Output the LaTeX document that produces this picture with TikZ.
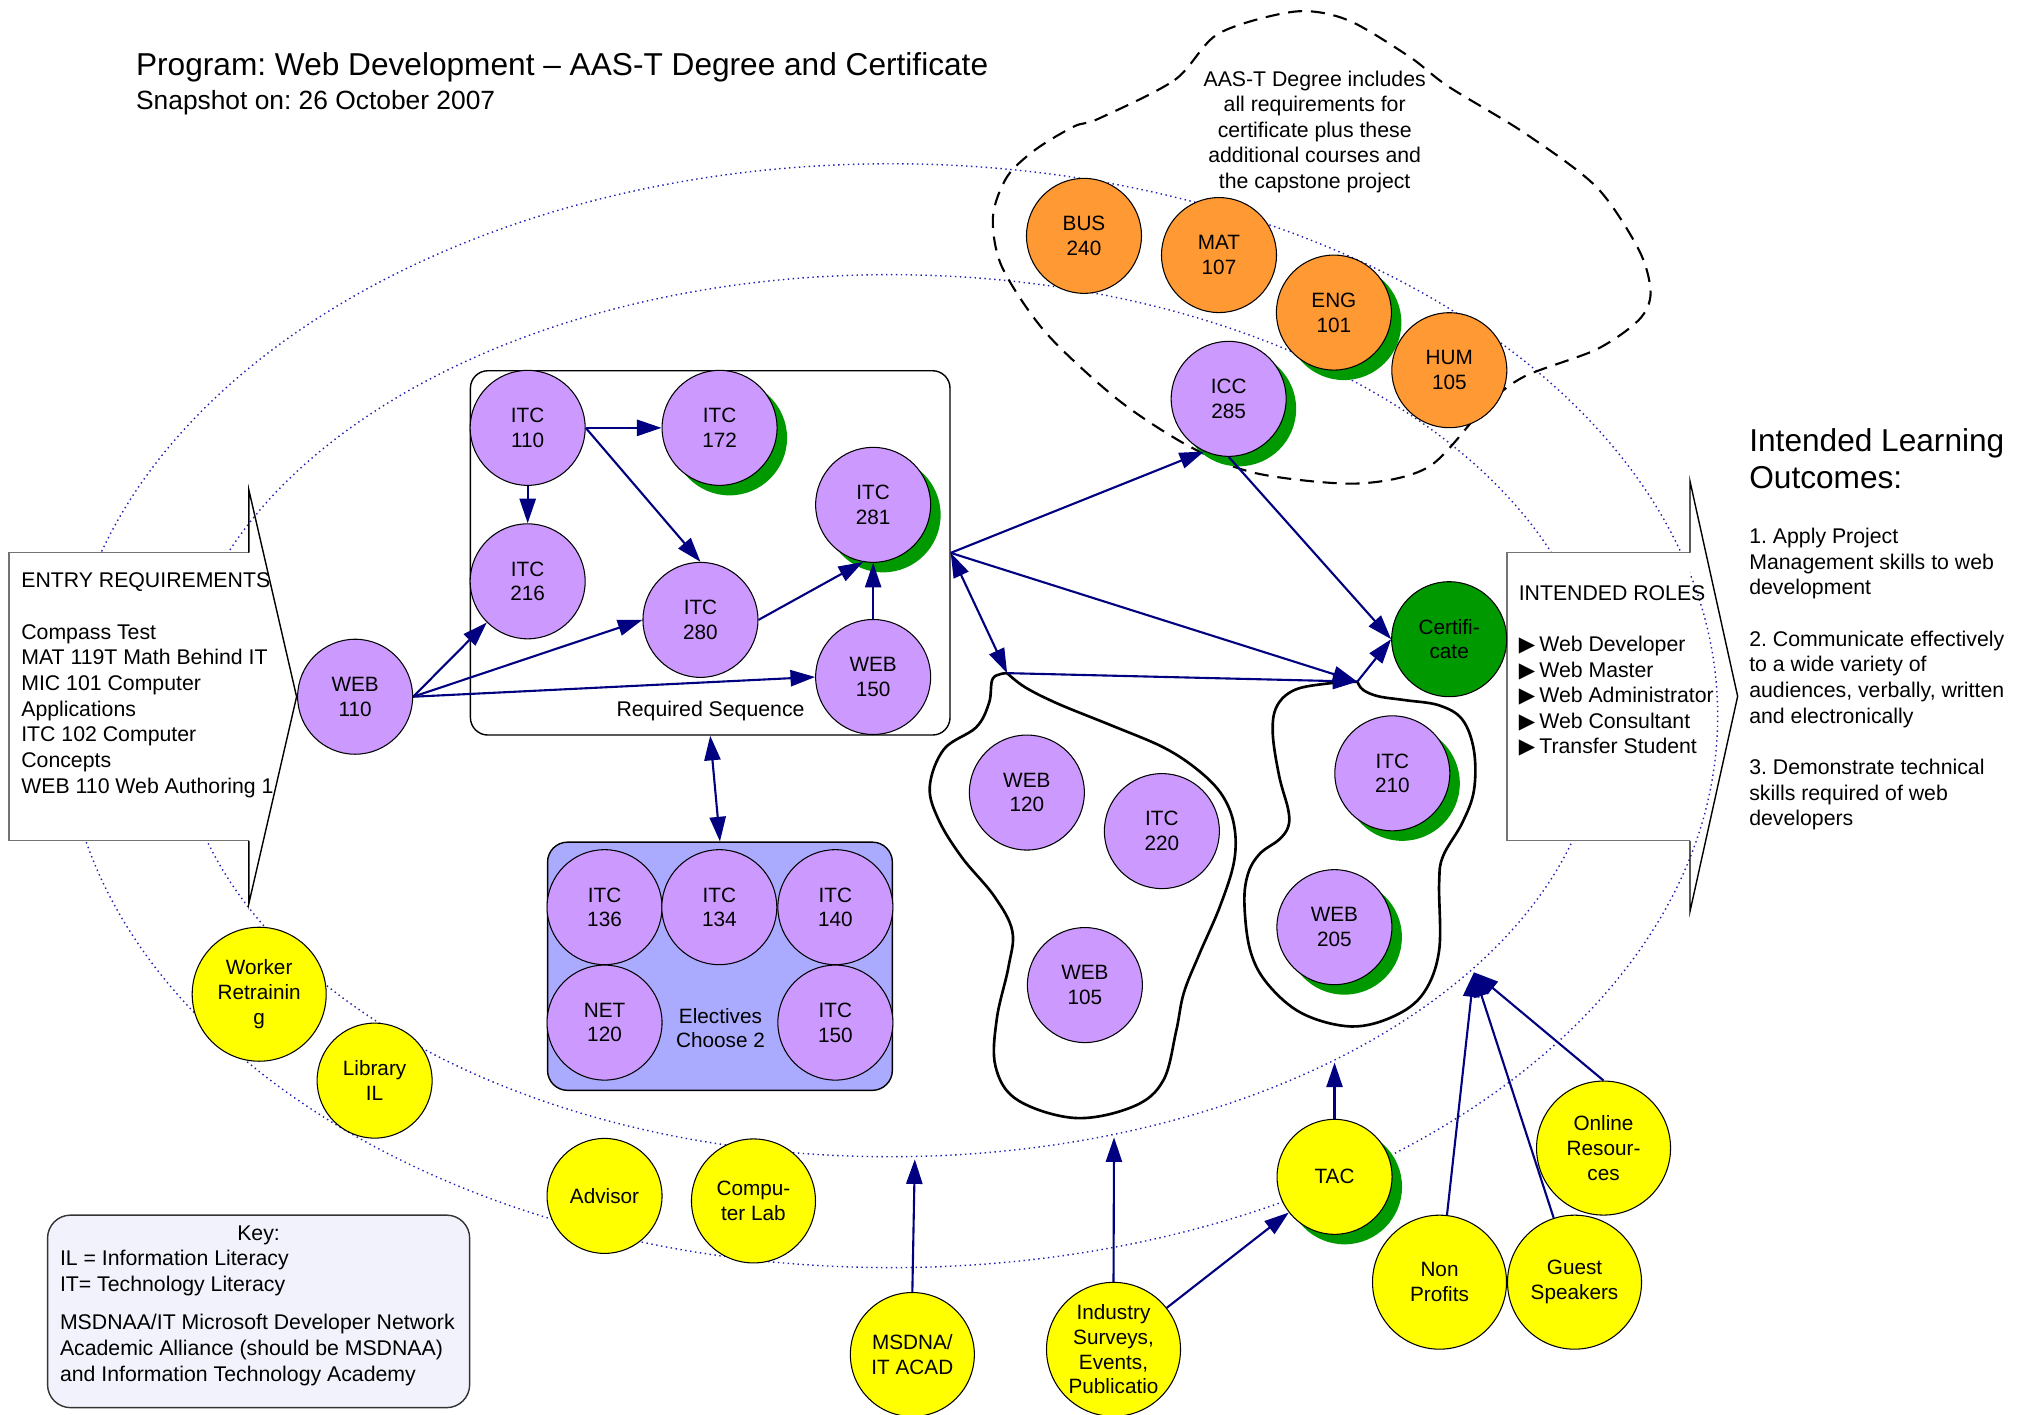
\documentclass[tikz,border=0pt]{standalone}
\usepackage{fontspec}
\setmainfont{Liberation Sans}
\newfontfamily\symfont{DejaVu Sans}
\usetikzlibrary{arrows.meta,shadows}
\definecolor{coursepurple}{RGB}{204,153,255}
\definecolor{extraorange}{RGB}{255,153,51}
\definecolor{helpyellow}{RGB}{255,255,0}
\definecolor{donegreen}{RGB}{0,153,0}
\definecolor{linknavy}{RGB}{0,0,128}
\definecolor{ringblue}{RGB}{30,30,180}
\definecolor{electblue}{RGB}{170,170,255}
\definecolor{keyfill}{RGB}{242,242,252}
\newcommand{\txtsmall}{\fontsize{6.05}{7.3}\selectfont}
\newcommand{\txtnode}{\fontsize{5.9}{7}\selectfont}
\newcommand{\txtbig}{\fontsize{9}{10.4}\selectfont}
\newcommand{\rolebullet}{{\symfont ▶}\hspace{1.2pt}}
\frenchspacing
\tikzset{
  course/.style={circle, draw=black, line width=0.3pt, fill=coursepurple,
    minimum size=11.5mm, inner sep=0pt, align=center, font=\txtnode},
  extra/.style={course, fill=extraorange},
  helper/.style={course, fill=helpyellow},
  bigger/.style={minimum size=13.4mm},
  medsize/.style={minimum size=12.4mm},
  done/.style={drop shadow={shadow xshift=1mm, shadow yshift=-1mm,
    fill=donegreen, opacity=1}},
  link/.style={draw=linknavy, line width=0.6pt, -{Triangle[length=7pt,width=4.6pt]}},
  bilink/.style={link, {Triangle[length=7pt,width=4.6pt]}-{Triangle[length=7pt,width=4.6pt]}},
  ring/.style={draw=ringblue, line width=0.4pt, densely dotted},
  grouping/.style={draw=black, line width=0.75pt},
  cloudline/.style={draw=black, line width=0.6pt, dash pattern=on 4pt off 2.5pt},
  txt/.style={anchor=base west, align=left, inner sep=0pt, font=\txtsmall},
}
\begin{document}
\begin{tikzpicture}[x=0.12895mm, y=-0.12895mm]
\path[use as bounding box, fill=white] (0,0) rectangle (1568,1097);

\draw[ring] (691,555) ellipse [x radius=641, y radius=428];
\draw[ring] (690,555) ellipse [x radius=552, y radius=342];

\node[anchor=base west, inner sep=0pt, font=\txtbig] (title) at (105,58.9)
  {Program: Web Development -- AAS-T Degree and Certificate};
\node[anchor=base west, inner sep=0pt, font=\fontsize{7.5}{9}\selectfont] (snap) at (105,84.8)
  {Snapshot on: 26 October 2007};

\fill[white] (7,428.6) rectangle (193,652);
\draw[black!55, line width=0.4pt] (193,428.6) -- (7,428.6) -- (7,652) -- (193,652);
\draw[line width=0.4pt] (193,428.6) -- (193,380) -- (230,540.3) -- (193,700.6) -- (193,652);
\node[txt] (entry) at (16,615) {ENTRY REQUIREMENTS\\[7.3pt]Compass Test\\MAT 119T Math Behind IT\\MIC 101 Computer\\Applications\\ITC 102 Computer\\Concepts\\WEB 110 Web Authoring 1};

\fill[white] (1168.7,428.6) rectangle (1310.5,652);
\draw[black!55, line width=0.4pt] (1310.5,428.6) -- (1168.7,428.6) -- (1168.7,652) -- (1310.5,652);
\draw[line width=0.4pt] (1310.5,428.6) -- (1310.5,373) -- (1347.5,540) -- (1310.5,707) -- (1310.5,652);
\node[txt] (roles) at (1177.2,584.7) {INTENDED ROLES\\[7.3pt]\rolebullet Web Developer\\\rolebullet Web Master\\\rolebullet Web Administrator\\\rolebullet Web Consultant\\\rolebullet Transfer Student};

\node[anchor=base west, align=left, inner sep=0pt, font=\txtbig] (outhead) at (1356,378.7) {Intended Learning\\Outcomes:};
\node[txt] (outcomes) at (1356,640.3) {1. Apply Project\\Management skills to web\\development\\[7.3pt]2. Communicate effectively\\to a wide variety of\\audiences, verbally, written\\and electronically\\[7.3pt]3. Demonstrate technical\\skills required of web\\developers};

\draw[cloudline] plot[smooth cycle] coordinates {(852,92) (911,62) (945,26) (1004,9) (1045,15.5) (1093,44) (1123,67) (1182,103) (1238,145) (1271,194) (1280,227) (1271,248) (1238,271) (1182,292) (1152,315) (1108,362) (1052,375) (974,367) (922,346) (867,310) (811,258) (777,207) (770,168) (781,137) (803,116) (833,98)};
\node[align=center, inner sep=0pt, anchor=base, font=\txtsmall] (degree) at (1019.5,146.3) {AAS-T Degree includes\\all requirements for\\certificate plus these\\additional courses and\\the capstone project};

\draw[grouping] plot[smooth, tension=0.6] coordinates {(781,522) (770,526) (767,545) (757,564) (732,581) (721,610) (728,636) (746,665) (771,695) (785,722) (782,750) (773,790) (772,827) (789,853) (834,867) (879,858) (902,838) (912,800) (918,770) (930,740) (946,703) (957,668) (957,640) (948,617) (930,598) (903,580) (863,563) (821,546) (795,533) (781,522)};
\draw[grouping] plot[smooth, tension=0.6] coordinates {(1052.6,528.6) (1030,530) (1004,535) (990,548) (987,569) (992,602) (999,628) (999,641) (992,651) (977,662) (968,677) (965,700) (969.5,737) (983,763) (1010,786) (1048,796) (1081,788) (1104,770) (1116,737) (1116,685) (1119,664) (1134,638) (1143,613) (1143,582) (1134,558) (1116,547) (1090,543) (1069,540) (1057,535) (1052.6,528.6)};

\node[draw=black, line width=0.4pt, rounded corners=1.75mm, minimum width=47.96mm, minimum height=36.43mm] (reqbox) at (550.75,428.75) {};
\node[anchor=base, inner sep=0pt, font=\txtsmall] (reqlabel) at (551,555.8) {Required Sequence};
\node[draw=black, line width=0.4pt, fill=electblue, rounded corners=2mm, minimum width=34.48mm, minimum height=24.82mm] (elect) at (558.3,749.3) {};
\node[align=center, font=\txtnode] (electlabel) at (558.7,797.2) {Electives\\Choose 2};

\node[draw=black!80, line width=0.4pt, fill=keyfill, rounded corners=2.3mm, minimum width=42.21mm, minimum height=19.25mm] (keybox) at (200.55,1016.95) {};
\node[anchor=base, inner sep=0pt, font=\txtsmall] (keyhead) at (200.5,961.9) {Key:};
\node[txt] (keytext) at (46,1071) {IL = Information Literacy\\IT= Technology Literacy\\[3.7pt]MSDNAA/IT Microsoft Developer Network\\Academic Alliance (should be MSDNAA)\\and Information Technology Academy};

\node[course] (web110) at (275.4,540.3) {WEB\\110};
\node[course] (itc110) at (409.2,331.8) {ITC\\110};
\node[course, done] (itc172) at (558,331.8) {ITC\\172};
\node[course] (itc216) at (409.2,450.8) {ITC\\216};
\node[course] (itc280) at (543.2,480.7) {ITC\\280};
\node[course, done] (itc281) at (677.1,391.5) {ITC\\281};
\node[course] (web150) at (677.1,525) {WEB\\150};

\node[course] (itc136) at (468.8,703.5) {ITC\\136};
\node[course] (itc134) at (557.8,703.5) {ITC\\134};
\node[course] (itc140) at (647.8,703.5) {ITC\\140};
\node[course] (net120) at (468.8,793) {NET\\120};
\node[course] (itc150) at (647.8,793) {ITC\\150};

\node[course] (web120) at (796.3,614.6) {WEB\\120};
\node[course] (itc220) at (901,644.5) {ITC\\220};
\node[course] (web105) at (841.3,763.9) {WEB\\105};
\node[course, done] (itc210) at (1079.7,599.7) {ITC\\210};
\node[course, done] (web205) at (1034.8,719) {WEB\\205};

\node[extra] (bus240) at (840.6,182.9) {BUS\\240};
\node[extra] (mat107) at (945.3,197.8) {MAT\\107};
\node[extra, done] (eng101) at (1034.4,242.4) {ENG\\101};
\node[extra] (hum105) at (1123.9,287.1) {HUM\\105};
\node[course, done] (icc285) at (952.8,309.3) {ICC\\285};
\node[course, fill=donegreen] (cert) at (1123.8,495.7) {Certifi-\\cate};

\node[helper, bigger] (worker) at (201,771) {Worker\\Retrainin\\g};
\node[helper] (library) at (290.5,838) {Library\\IL};
\node[helper] (advisor) at (468.8,927.4) {Advisor};
\node[helper, medsize] (complab) at (584.3,931.3) {Compu-\\ter Lab};
\node[helper, medsize] (msdna) at (707.5,1050.4) {MSDNA/\\IT ACAD};
\node[helper, bigger] (industry) at (863.5,1046.4) {Industry\\Surveys,\\Events,\\Publicatio};
\node[helper, done] (tac) at (1034.9,912.6) {TAC};
\node[helper, bigger] (nonprofit) at (1116.3,994.3) {Non\\Profits};
\node[helper, bigger] (guest) at (1221,994.3) {Guest\\Speakers};
\node[helper, bigger] (online) at (1243.5,890.3) {Online\\Resour-\\ces};

\coordinate (ltop) at (781,522);
\coordinate (rtop) at (1052.6,528.6);
\coordinate (msdnatip) at (709.4,899);
\coordinate (indtip) at (863.9,882);
\coordinate (tactip) at (1034.9,824);
\coordinate (outtip) at (1143,754);

\draw[link] (web110.east) -- (itc216);
\draw[link] (web110.east) -- (itc280.west);
\draw[link] (web110.east) -- (web150.west);
\draw[link] (itc110.east) -- (itc172.west);
\draw[link] (itc110) -- (itc216);
\draw[link] (itc110.east) -- (itc280.north);
\draw[link] (itc280.east) -- (itc281.260);
\draw[link] (web150) -- (itc281);
\draw[link] (reqbox.east) -- (icc285.245);
\draw[link] (reqbox.east) -- (rtop);
\draw[bilink] (reqbox.east) -- (ltop);
\draw[link] (ltop) -- (rtop);
\draw[link] (rtop) -- (cert.west);
\draw[link] (icc285.south) -- (cert.west);
\draw[bilink] (reqbox.south) -- (elect.north);
\draw[link] (msdna.north) -- (msdnatip);
\draw[link] (industry.north) -- (indtip);
\draw[link] (industry) -- (tac);
\draw[link] (tac.north) -- (tactip);
\draw[link] (nonprofit) -- (outtip);
\draw[link] (guest) -- (outtip);
\draw[link] (online.north) -- (outtip);
\end{tikzpicture}
\end{document}
